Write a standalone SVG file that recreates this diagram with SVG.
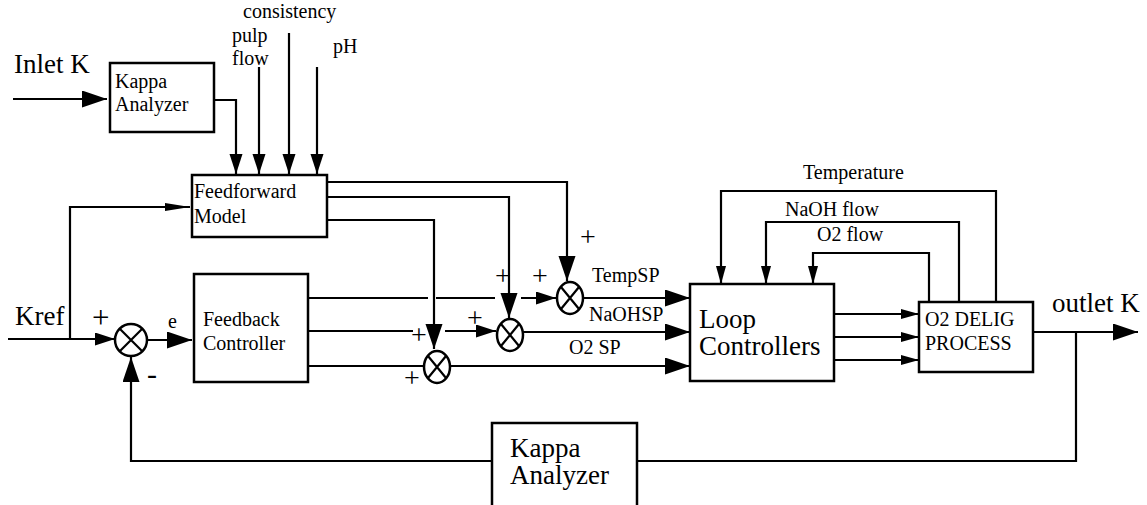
<svg xmlns="http://www.w3.org/2000/svg" width="1147" height="505" viewBox="0 0 1147 505">
<style>
.box{fill:#fff;stroke:#000;stroke-width:2.5}
.ln{fill:none;stroke:#000;stroke-width:2.2}
.sum{fill:#fff;stroke:#000;stroke-width:2.5}
.x{stroke:#000;stroke-width:2.2}
text{font-family:"Liberation Serif","Times New Roman",serif;fill:#000}
.s{font-size:20px}
.b{font-size:27px}
.p{font-size:28px}
</style>
<defs>
<marker id="aL" markerUnits="userSpaceOnUse" markerWidth="26" markerHeight="18" refX="25" refY="8.5" orient="auto"><path d="M0,0 L25,8.5 L0,17 z" fill="#000"/></marker>
<marker id="aM" markerUnits="userSpaceOnUse" markerWidth="22" markerHeight="14" refX="20" refY="6.5" orient="auto"><path d="M0,0 L20,6.5 L0,13 z" fill="#000"/></marker>
<marker id="aS" markerUnits="userSpaceOnUse" markerWidth="20" markerHeight="12" refX="18" refY="5" orient="auto"><path d="M0,0 L18,5 L0,10 z" fill="#000"/></marker>
<marker id="aT" markerUnits="userSpaceOnUse" markerWidth="26" markerHeight="10" refX="25" refY="4" orient="auto"><path d="M0,0 L25,4 L0,8 z" fill="#000"/></marker>
</defs>

<g id="connectors">
<!-- inputs top -->
<path class="ln" d="M13,99 H107" marker-end="url(#aL)"/>
<path class="ln" d="M214,100 H236 V174" marker-end="url(#aM)"/>
<path class="ln" d="M259,67 V174" marker-end="url(#aM)"/>
<path class="ln" d="M289,33 V174" marker-end="url(#aM)"/>
<path class="ln" d="M317,67 V174" marker-end="url(#aM)"/>
<!-- Kref -->
<path class="ln" d="M8,339 H115" marker-end="url(#aM)"/>
<path class="ln" d="M70,339 V207 H190" marker-end="url(#aT)"/>
<path class="ln" d="M147,340 H192" marker-end="url(#aL)"/>
<!-- feedforward outputs -->
<path class="ln" d="M327,182 H567 V281" marker-end="url(#aL)"/>
<path class="ln" d="M327,197 H509 V318" marker-end="url(#aL)"/>
<path class="ln" d="M327,220 H434 V349" marker-end="url(#aL)"/>
<!-- feedback outputs -->
<path class="ln" d="M308,298 H428 M436,298 H495"/>
<path class="ln" d="M521,298 H556" marker-end="url(#aM)"/>
<path class="ln" d="M308,331 H413"/>
<path class="ln" d="M445,331 H496" marker-end="url(#aM)"/>
<path class="ln" d="M308,366 H424"/>
<!-- sums to loop controllers -->
<path class="ln" d="M583,298 H690" marker-end="url(#aL)"/>
<path class="ln" d="M523,332 H690" marker-end="url(#aL)"/>
<path class="ln" d="M450,366 H690" marker-end="url(#aL)"/>
<!-- loop to process -->
<path class="ln" d="M834,314 H919" marker-end="url(#aS)"/>
<path class="ln" d="M834,337 H919" marker-end="url(#aS)"/>
<path class="ln" d="M834,360 H919" marker-end="url(#aS)"/>
<!-- process feedback -->
<path class="ln" d="M996,302 V191 H721 V284" marker-end="url(#aS)"/>
<path class="ln" d="M959,302 V222 H766 V284" marker-end="url(#aS)"/>
<path class="ln" d="M929,302 V253 H813 V284" marker-end="url(#aS)"/>
<!-- outlet -->
<path class="ln" d="M1033,332 H1138" marker-end="url(#aL)"/>
<path class="ln" d="M1076,332 V461 H637 M492,461 H131 V357" marker-end="url(#aL)"/>
</g>

<g id="kappa-top">
<rect class="box" x="110" y="63" width="104" height="69"/>
<text class="s" x="115" y="88">Kappa</text>
<text class="s" x="115" y="111">Analyzer</text>
</g>
<g id="feedforward">
<rect class="box" x="192" y="175" width="135" height="62"/>
<text class="s" x="194" y="198">Feedforward</text>
<text class="s" x="194" y="223">Model</text>
</g>
<g id="feedback">
<rect class="box" x="194" y="274" width="114" height="108"/>
<text class="s" x="203" y="326">Feedback</text>
<text class="s" x="203" y="350">Controller</text>
</g>
<g id="loop">
<rect class="box" x="690" y="284" width="144" height="97"/>
<text class="b" x="699" y="328">Loop</text>
<text class="b" x="699" y="355">Controllers</text>
</g>
<g id="process">
<rect class="box" x="919" y="302" width="114" height="70"/>
<text class="s" x="925" y="326">O2 DELIG</text>
<text class="s" x="925" y="350">PROCESS</text>
</g>
<g id="kappa-bottom">
<rect class="box" x="492" y="423" width="145" height="100"/>
<text class="b" x="510" y="457">Kappa</text>
<text class="b" x="510" y="484">Analyzer</text>
</g>

<g id="sum0">
<circle class="sum" cx="131" cy="340" r="16"/>
<path class="x" d="M120,329 L142,351 M142,329 L120,351"/>
</g>
<g id="sum1">
<ellipse class="sum" cx="570" cy="298" rx="13" ry="16"/>
<path class="x" d="M561,287 L579,309 M579,287 L561,309"/>
</g>
<g id="sum2">
<ellipse class="sum" cx="510" cy="335" rx="13" ry="16"/>
<path class="x" d="M501,324 L519,346 M519,324 L501,346"/>
</g>
<g id="sum3">
<ellipse class="sum" cx="437" cy="367" rx="13" ry="16"/>
<path class="x" d="M428,356 L446,378 M446,356 L428,378"/>
</g>

<g id="labels">
<text class="b" x="14" y="73">Inlet K</text>
<text class="s" x="243" y="18">consistency</text>
<text class="s" x="232" y="42">pulp</text>
<text class="s" x="232" y="65">flow</text>
<text class="s" x="333" y="53">pH</text>
<text class="b" x="15" y="325">Kref</text>
<text x="92" y="328" style="font-size:31px">+</text>
<text x="147" y="384" style="font-size:30px">-</text>
<text class="s" x="168" y="328">e</text>
<text class="p" x="580" y="246">+</text>
<text class="p" x="532" y="285">+</text>
<text class="p" x="495" y="285">+</text>
<text class="p" x="467" y="327">+</text>
<text class="p" x="411" y="344">+</text>
<text class="p" x="404" y="387">+</text>
<text class="s" x="592" y="282">TempSP</text>
<text class="s" x="589" y="321">NaOHSP</text>
<text class="s" x="569" y="354">O2 SP</text>
<text class="s" x="803" y="179">Temperature</text>
<text class="s" x="785" y="216">NaOH flow</text>
<text class="s" x="817" y="241">O2 flow</text>
<text class="b" x="1052" y="312">outlet K</text>
</g>
</svg>
